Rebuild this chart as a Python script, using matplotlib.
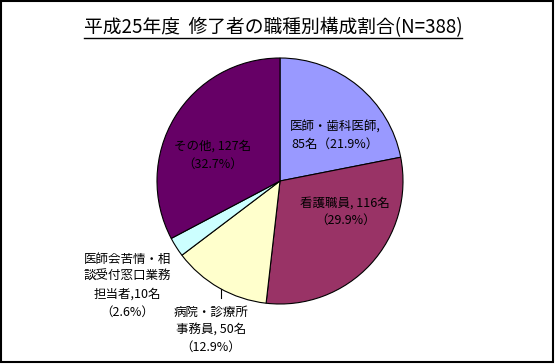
import matplotlib
matplotlib.use("Agg")
import matplotlib.pyplot as plt
from matplotlib.lines import Line2D
from matplotlib.patches import Rectangle

plt.rcParams['font.family'] = ['Noto Sans CJK JP', 'DejaVu Sans']

title = "平成25年度  修了者の職種別構成割合(N=388)"
names = ["医師・歯科医師", "看護職員", "病院・診療所\n事務員", "医師会苦情・相\n談受付窓口業務\n担当者", "その他"]
values = [85, 116, 50, 10, 127]
colors = ["#9999FF", "#993366", "#FFFFCC", "#CCFFFF", "#660066"]
# how each label is wrapped (name, count, percent)
label_fmt = ["{n},\n{v}名（{p:.1f}%）",
             "{n}, {v}名\n（{p:.1f}%）",
             "{n}, {v}名\n（{p:.1f}%）",
             "{n},{v}名\n（{p:.1f}%）",
             "{n}, {v}名\n（{p:.1f}%）"]
# label centres in pie-radius units
label_pos = [(0.45, 0.37), (0.53, -0.25), (-0.56, -1.21), (-1.24, -0.85), (-0.55, 0.21)]

W, H = 555, 364
fig = plt.figure(figsize=(W / 100, H / 100), dpi=100)

cx, cy, r = 280, 181, 123
ax = fig.add_axes([(cx - r) / W, (H - cy - r) / H, 2 * r / W, 2 * r / H])
ax.pie(values, colors=colors, startangle=90, counterclock=False,
       wedgeprops=dict(edgecolor='black', linewidth=0.8))
ax.set_xlim(-1, 1)
ax.set_ylim(-1, 1)
ax.set_aspect('equal')
ax.axis('off')

total = sum(values)
for i in range(len(values)):
    txt = label_fmt[i].format(n=names[i], v=values[i], p=values[i] * 100.0 / total)
    ax.text(label_pos[i][0], label_pos[i][1], txt, ha='center', va='center',
            fontsize=9, linespacing=1.45, color='black')

# leader line for the yellow slice
ax.plot([-0.48, -0.48], [-0.88, -0.95], color='black', linewidth=0.8, clip_on=False)

t = fig.text(0.492, 1 - 28 / H, title, ha='center', va='center', fontsize=13.5)
fig.canvas.draw()
bb = t.get_window_extent().transformed(fig.transFigure.inverted())
fig.lines.append(Line2D([bb.x0, bb.x1], [1 - 38 / H, 1 - 38 / H],
                        transform=fig.transFigure, color='black', linewidth=1))

# chart frame
fig.patches.append(Rectangle((0.5 / W, 2 / H), (W - 3) / W, (H - 2.5) / H,
                             transform=fig.transFigure, fill=False,
                             edgecolor='black', linewidth=1.5))

plt.savefig("out.png", dpi=100)
